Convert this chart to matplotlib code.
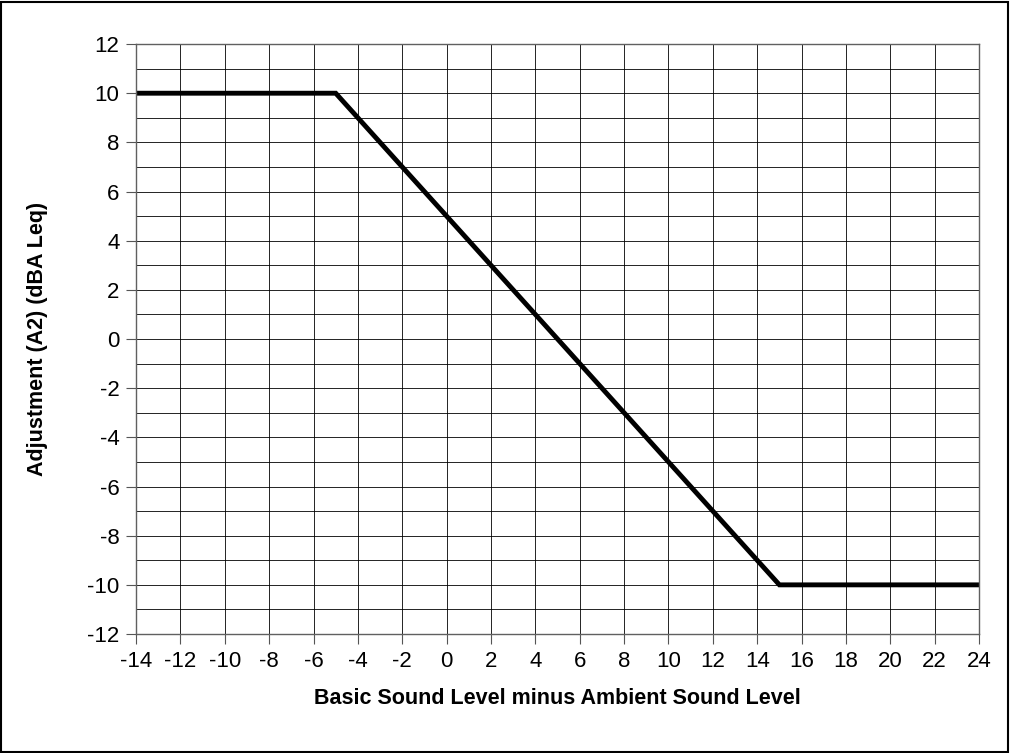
import matplotlib.pyplot as plt
from matplotlib.patches import Rectangle
import numpy as np

# data
diff_x = [-14, -5, 15, 24]
adjust_y = [10, 10, -10, -10]

plt.rcParams['font.family'] = ['Liberation Sans', 'DejaVu Sans']
plt.rcParams['axes.unicode_minus'] = False

fig = plt.figure(figsize=(10.1, 7.53), dpi=100)
ax = fig.add_axes([0.1347, 0.158, 0.8347, 0.7835])

ax.plot(diff_x, adjust_y, color='black', lw=3.5, solid_joinstyle='miter')

ax.set_xlim(-14, 24)
ax.set_ylim(-12, 12)
ax.set_xticks(np.arange(-14, 25, 2))
ax.set_yticks(np.arange(-12, 13, 2))
ax.set_yticks(np.arange(-12, 13, 1), minor=True)
ax.grid(True, which='both', color='black', lw=0.6)
ax.tick_params(labelsize=16, length=7, color='#555555', pad=5)
ax.tick_params(which='minor', length=0)
for s in ax.spines.values():
    s.set_color('#606060')
    s.set_linewidth(1)

ax.set_xlabel('Basic Sound Level minus Ambient Sound Level', fontsize=15.5,
              fontweight='bold', labelpad=12)
ax.set_ylabel('Adjustment (A2) (dBA Leq)', fontsize=15.5, fontweight='bold',
              labelpad=28)

fig.patches.append(Rectangle((0.001, 0.001), 0.997, 0.997, transform=fig.transFigure,
                             fill=False, edgecolor='black', lw=1.5))

fig.savefig('out.png', dpi=100)
